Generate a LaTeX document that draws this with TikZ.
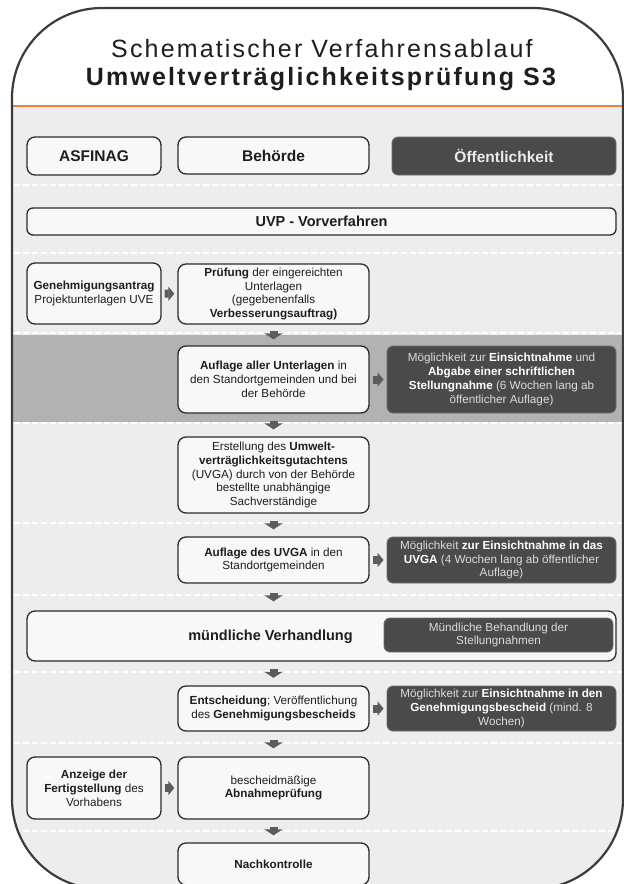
\documentclass[tikz,border=0pt]{standalone}
\usepackage{fontspec}
\setmainfont{Liberation Sans}
\newfontfamily\titlefont[LetterSpace=8.6]{Liberation Sans}
\usepackage{tikz}
\usetikzlibrary{arrows.meta}

\definecolor{framegray}{HTML}{3C3C3C}
\definecolor{panelgray}{HTML}{EDEDED}
\definecolor{bandgray}{HTML}{B2B2B2}
\definecolor{boxfill}{HTML}{F8F8F8}
\definecolor{boxline}{HTML}{2B2B2B}
\definecolor{darkfill}{HTML}{4A4A4A}
\definecolor{darkline}{HTML}{6E6E6E}
\definecolor{darktext}{HTML}{DCDCDC}
\definecolor{arrowgray}{HTML}{5C5C5C}
\definecolor{orangeline}{HTML}{E8843C}
\definecolor{textgray}{HTML}{1E1E1E}

\newcommand{\boxfont}{\fontsize{11.7}{13.9}\selectfont}
\newcommand{\headfont}{\fontsize{15.5}{18}\selectfont\bfseries}
\newcommand{\rowfont}{\fontsize{14.5}{17}\selectfont\bfseries}
\newcommand{\wbf}[1]{\textbf{\color{white}#1}}

\tikzstyle{box} = [rectangle, rounded corners=8pt, draw=boxline, line width=1.3pt, fill=boxfill, 
text=textgray, align=center, inner sep=1pt, font=\boxfont]
\tikzstyle{dark} = [rectangle, rounded corners=6pt, draw=darkline, line width=0.8pt, fill=darkfill, 
text=darktext, align=center, inner sep=1pt, font=\boxfont]
\tikzstyle{down} = [draw=arrowgray, line width=8pt, -{Triangle[width=18pt,length=6pt]}]
\tikzstyle{side} = [draw=arrowgray, line width=8pt, -{Triangle[width=14pt,length=6pt]}, shorten <=3pt, shorten >=3pt]
\tikzstyle{sep} = [white, line width=1.2pt, dash pattern=on 6pt off 3pt]

\begin{document}
\begin{tikzpicture}[x=1pt, y=-1pt]

  \path[use as bounding box] (0,0) rectangle (624,884);
  \clip (0,0) rectangle (624,884);

  % frame and background bands
  \fill[white, rounded corners=90pt] (12,8) rectangle (623,889);
  \begin{scope}
    \clip[rounded corners=90pt] (12,8) rectangle (623,889);
    \fill[panelgray] (0,106) rectangle (624,889);
    \fill[bandgray] (0,335) rectangle (624,422);
    \foreach \y in {185,253,333,423,523,595,672,743,831}
      \draw[sep] (14,\y) -- (624,\y);
    \draw[orangeline, line width=2pt] (0,106) -- (624,106);
  \end{scope}
  \draw[framegray, line width=2.2pt, rounded corners=90pt] (12,8) rectangle (623,889);

  \node(title)[align=center, text=textgray, font={\titlefont\fontsize{25}{28}\selectfont}] at (322,65.5)
    {Schematischer Verfahrensablauf\\\textbf{Umweltverträglichkeitsprüfung S3}};

  % column heads
  \node(asfinag)[box, font=\headfont, minimum width=134pt, minimum height=38pt] at (94,156) {ASFINAG};
  \node(behoerde)[box, font=\headfont, minimum width=191pt, minimum height=37pt] at (273.5,155.5) {Behörde};
  \node(oeffentl)[dark, font=\headfont, text=white!92!black, minimum width=224pt, minimum height=38pt] at (504,156) {Öffentlichkeit};

  \node(uvp)[box, font=\rowfont, rounded corners=6pt, minimum width=589pt, minimum height=27pt] at (321.5,221.5) {UVP - Vorverfahren};

  % steps
  \node(antrag)[box, minimum width=134pt, minimum height=61pt] at (94,293.5)
    {\textbf{Genehmigungsantrag}\\Projektunterlagen UVE};
  \node(pruefung)[box, minimum width=191pt, minimum height=60pt] at (273.5,294)
    {\textbf{Prüfung} der eingereichten\\Unterlagen\\(gegebenenfalls\\\textbf{Verbesserungsauftrag)}};
  \node(auflage)[box, minimum width=191pt, minimum height=67pt] at (273.5,379.5)
    {\textbf{Auflage aller Unterlagen} in\\den Standortgemeinden und bei\\der Behörde};
  \node(stellung)[dark, minimum width=229pt, minimum height=67pt] at (501.5,379.5)
    {Möglichkeit zur \wbf{Einsichtnahme} und\\\wbf{Abgabe einer schriftlichen}\\\wbf{Stellungnahme} (6 Wochen lang ab\\öffentlicher Auflage)};
  \node(gutachten)[box, minimum width=191pt, minimum height=76pt] at (273.5,475)
    {Erstellung des \textbf{Umwelt-}\\\textbf{verträglichkeitsgutachtens}\\(UVGA) durch von der Behörde\\bestellte unabhängige\\Sachverständige};
  \node(auflageuvga)[box, minimum width=191pt, minimum height=46pt] at (273.5,560)
    {\textbf{Auflage des UVGA} in den\\Standortgemeinden};
  \node(einsichtuvga)[dark, minimum width=229pt, minimum height=46pt] at (501.5,560)
    {Möglichkeit \wbf{zur Einsichtnahme in das}\\\wbf{UVGA} (4 Wochen lang ab öffentlicher\\Auflage)};
  \node(verhandlung)[box, minimum width=589pt, minimum height=50pt] at (321.5,636) {};
  \node(verhandlungtext)[font=\rowfont, text=textgray] at (270.5,637) {mündliche Verhandlung};
  \node(behandlung)[dark, minimum width=229pt, minimum height=34pt] at (498.5,635)
    {Mündliche Behandlung der\\Stellungnahmen};
  \node(entscheidung)[box, minimum width=191pt, minimum height=45pt] at (273.5,708.5)
    {\textbf{Entscheidung}; Veröffentlichung\\des \textbf{Genehmigungsbescheids}};
  \node(einsichtbescheid)[dark, minimum width=229pt, minimum height=45pt] at (501.5,708.5)
    {Möglichkeit zur \wbf{Einsichtnahme in den}\\\wbf{Genehmigungsbescheid} (mind. 8\\Wochen)};
  \node(anzeige)[box, minimum width=134pt, minimum height=62pt] at (94,788)
    {\textbf{Anzeige der}\\\textbf{Fertigstellung} des\\Vorhabens};
  \node(abnahme)[box, minimum width=191pt, minimum height=62pt] at (273.5,788)
    {bescheidmäßige\\\textbf{Abnahmeprüfung}};
  \node(nachkontrolle)[box, minimum width=191pt, minimum height=42pt] at (273.5,864)
    {\textbf{Nachkontrolle}};

  % arrows
  \draw[side] (antrag) -- (pruefung);
  \draw[side] (auflage) -- (stellung);
  \draw[side] (auflageuvga) -- (einsichtuvga);
  \draw[side] (entscheidung) -- (einsichtbescheid);
  \draw[side] (anzeige) -- (abnahme);
  \draw[down, shorten <=6pt, shorten >=6pt] (pruefung) -- (auflage);
  \draw[down, shorten <=7pt, shorten >=7pt] (auflage) -- (gutachten);
  \draw[down, shorten <=7pt, shorten >=7pt] (gutachten) -- (auflageuvga);
  \draw[down, shorten <=9pt, shorten >=9pt] (auflageuvga.south) -- (auflageuvga.south |- verhandlung.north);
  \draw[down, shorten <=7.5pt, shorten >=7.5pt] (verhandlung.south -| entscheidung.north) -- (entscheidung.north);
  \draw[down, shorten <=8pt, shorten >=8pt] (entscheidung) -- (abnahme);
  \draw[down, shorten <=7pt, shorten >=7pt] (abnahme) -- (nachkontrolle);

\end{tikzpicture}
\end{document}
